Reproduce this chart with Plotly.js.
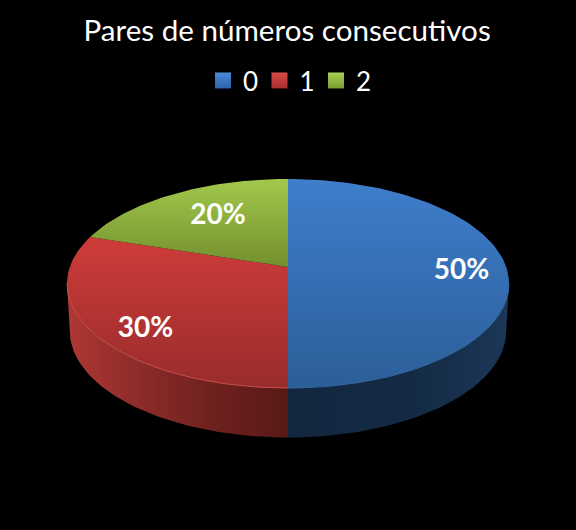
<!DOCTYPE html>
<html>
<head>
<meta charset="utf-8">
<script src="https://cdn.plot.ly/plotly-3.0.1.min.js"></script>
<style>html,body{margin:0;padding:0;background:#000;}#chart{width:576px;height:530px;}</style>
</head>
<body>
<div id="chart"></div>
<script>
// Chart content
var chartTitle = 'Pares de números consecutivos';
var categories = ['0', '1', '2'];
var shares = [50, 30, 20];

// Styles, one per slice
var topColorsStart = ['#3e7ecc', '#cf3c3a', '#a2c84b'];
var topColorsEnd   = ['#2c5e98', '#982c2b', '#72902e'];
var rimColors      = ['#3669a2', '#c9524d', '#8cb03f'];
var wallScales = [
  [[0, '#13273f'], [0.55, '#142a44'], [1, '#1b3757']],
  [[0, '#b03734'], [0.3, '#8f2d2b'], [0.65, '#6f211f'], [1, '#581917']],
  [[0, '#5f7726'], [1, '#5f7726']]
];
var legendColorsTop = ['#4a8ad8', '#d84a48', '#a9cf55'];
var legendColorsEnd = ['#2c64a8', '#a52e2c', '#7d9c34'];
var labelNudgeX = [1, 8, 22];
var labelNudgeY = [5, 12, 9];

// Perspective view of the disc
var cx = 288, q = 0.158;
var topDisc = {y0: 267, a: 218.2, b: 101.9};
var lowDisc = {y0: 314, a: 215.5, b: 104};
var labelR = 0.79;
var nearFrom = 99, nearTo = 261;   // near side between the two widest points of the disc

function proj(d, deg, r) {
  var t = deg * Math.PI / 180, u = Math.sin(t) * r, v = Math.cos(t) * r, w = 1 + q * v;
  return [cx + d.a * u / w, d.y0 - d.b * v / w];
}
function arc(d, from, to) {
  var n = Math.max(2, Math.ceil(Math.abs(to - from) / 1.5)), pts = [];
  for (var i = 0; i <= n; i++) pts.push(proj(d, from + (to - from) * i / n, 1));
  return pts;
}
function xs(p) { return p.map(function (a) { return a[0]; }); }
function ys(p) { return p.map(function (a) { return a[1]; }); }

var total = shares.reduce(function (a, b) { return a + b; }, 0);
var traces = [], tops = [], rims = [], lx = [], ly = [], lt = [];
var acc = 0;
shares.forEach(function (s, i) {
  var from = acc / total * 360, to = (acc + s) / total * 360, mid = (from + to) / 2;
  acc += s;
  // side wall: only the part of the slice on the near half of the disc
  var wFrom = Math.max(from, nearFrom), wTo = Math.min(to, nearTo);
  if (wTo > wFrom) {
    var upper = arc(topDisc, wFrom, wTo), lower = arc(lowDisc, wTo, wFrom), w = upper.concat(lower);
    var wx = xs(w);
    traces.push({
      type: 'scatter', mode: 'lines', x: wx, y: ys(w), fill: 'toself', showlegend: false, hoverinfo: 'skip',
      line: {width: 0},
      fillgradient: {type: 'horizontal', colorscale: wallScales[i],
        start: Math.min.apply(null, wx), stop: Math.max.apply(null, wx)}
    });
    var rim = arc(topDisc, wFrom, wTo);
    rims.push({type: 'scatter', mode: 'lines', x: xs(rim), y: ys(rim), showlegend: false, hoverinfo: 'skip',
      line: {width: 1, color: rimColors[i]}});
  }
  // top face
  var face = [[cx, topDisc.y0]].concat(arc(topDisc, from, to));
  var fy = ys(face);
  tops.push({
    type: 'scatter', mode: 'lines', x: xs(face), y: fy, fill: 'toself', showlegend: false, hoverinfo: 'skip',
    line: {width: 0},
    fillgradient: {type: 'vertical',
      colorscale: [[0, topColorsStart[i]], [1, topColorsEnd[i]]],
      start: Math.min.apply(null, fy), stop: Math.max.apply(null, fy)}
  });
  var lp = proj(topDisc, mid, labelR);
  lx.push(lp[0] + labelNudgeX[i]);
  ly.push(lp[1] + labelNudgeY[i]);
  lt.push(Math.round(s / total * 100) + '%');
});
traces = traces.concat(tops, rims);
traces.push({
  type: 'scatter', mode: 'text', x: lx, y: ly, text: lt, textposition: 'middle center', showlegend: false,
  hoverinfo: 'skip', textfont: {family: 'Lato, "Open Sans", sans-serif', size: 28, color: '#ffffff', weight: 700}
});
categories.forEach(function (c, i) {
  traces.push({
    type: 'scatter', mode: 'markers', x: [null], y: [null], name: c, showlegend: true, hoverinfo: 'skip',
    marker: {symbol: 'square', size: 16, color: legendColorsTop[i],
      gradient: {type: 'vertical', color: legendColorsEnd[i]}}
  });
});

var layout = {
  width: 576, height: 530,
  margin: {l: 0, r: 0, t: 0, b: 0, pad: 0},
  paper_bgcolor: '#000000', plot_bgcolor: '#000000',
  xaxis: {range: [0, 576], visible: false, fixedrange: true},
  yaxis: {range: [530, 0], visible: false, fixedrange: true},
  title: {text: chartTitle, x: 0.4985, xanchor: 'center', y: 0.943, yanchor: 'middle',
    font: {family: 'Lato, "Open Sans", sans-serif', size: 29.6, color: '#ffffff'}},
  legend: {orientation: 'h', x: 0.3524, xanchor: 'left', y: 0.848, yanchor: 'middle',
    font: {family: 'Lato, "Open Sans", sans-serif', size: 26, color: '#ffffff'},
    bgcolor: 'rgba(0,0,0,0)', entrywidth: 11.5, entrywidthmode: 'pixels', itemclick: false, itemdoubleclick: false},
  showlegend: true
};
Plotly.newPlot('chart', traces, layout, {displayModeBar: false, staticPlot: true});
</script>
</body>
</html>
